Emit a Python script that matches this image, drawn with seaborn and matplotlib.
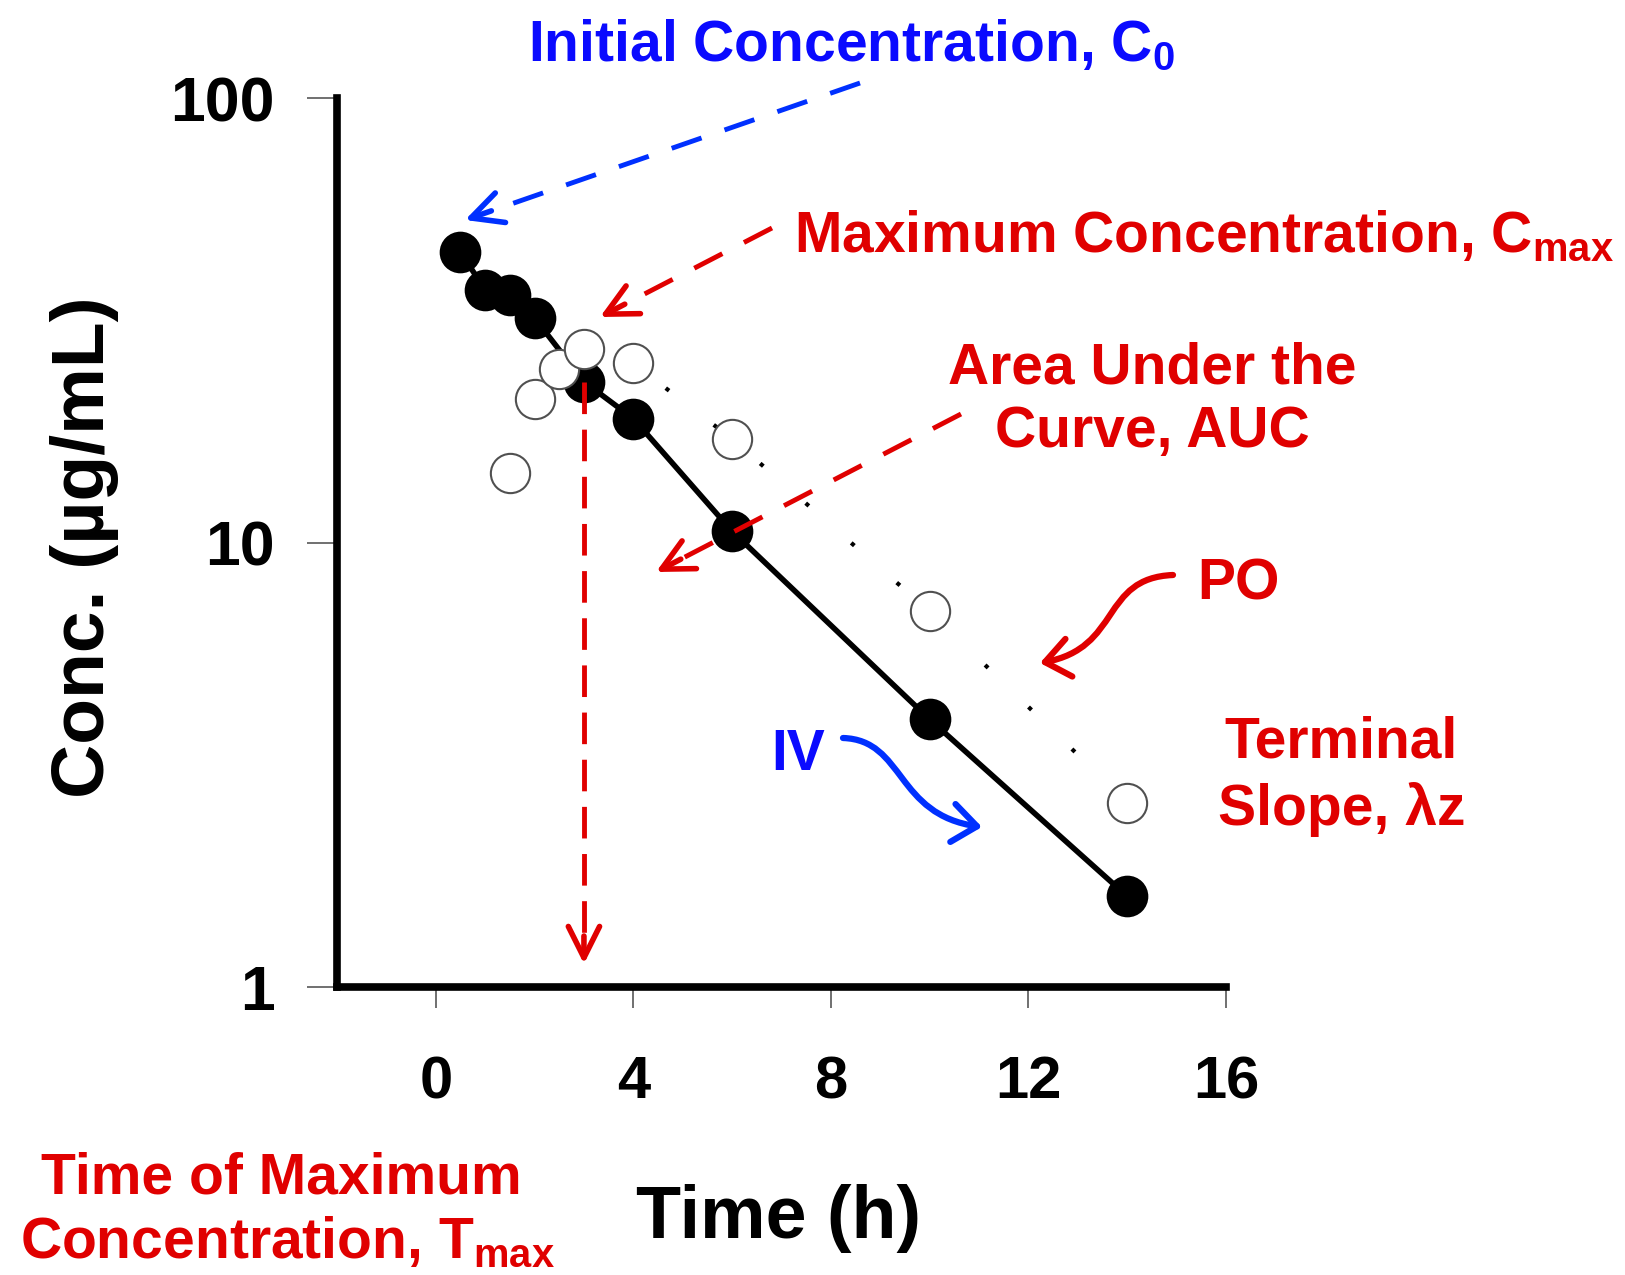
import numpy as np
import pandas as pd
import matplotlib
matplotlib.use("Agg")
import matplotlib.pyplot as plt
from matplotlib.patches import FancyArrowPatch
from matplotlib.path import Path
from matplotlib.ticker import NullLocator
import seaborn as sns

# IV bolus profile (filled circles, solid line)
iv_time = [0.5, 1, 1.5, 2, 3, 4, 6, 10, 14]
iv_conc = [45, 37, 36, 32, 23, 19, 10.6, 4.0, 1.6]

# oral (PO) profile (open circles, dotted line)
po_time = [1.5, 2, 2.5, 3, 4, 6, 10, 14]
po_conc = [14.3, 21, 24.6, 27.3, 25.3, 17.1, 7.0, 2.6]

x_ticks = [0, 4, 8, 12, 16]
y_ticks = [1, 10, 100]
y_tick_labels = ["1", "10", "100"]

t_max = 3  # time of the peak PO sample

RED = "#e00000"
BLUE = "#0a0aff"
BLUE_ARROW = "#0030ff"

sns.set_theme(style="ticks")
plt.rcParams["font.family"] = ["Liberation Sans", "DejaVu Sans"]
plt.rcParams["font.weight"] = "bold"
plt.rcParams["mathtext.fontset"] = "custom"
plt.rcParams["mathtext.rm"] = "Liberation Sans"
plt.rcParams["mathtext.it"] = "Liberation Sans:italic"
plt.rcParams["mathtext.bf"] = "Liberation Sans:bold"
plt.rcParams["text.color"] = "black"
plt.rcParams["axes.labelcolor"] = "black"

W, H = 1625, 1275
fig = plt.figure(figsize=(W / 100, H / 100), dpi=100)
fig.patch.set_facecolor("white")

# axes box in figure pixels, measured from the top-left corner
AX_L, AX_T, AX_R, AX_B = 337, 98, 1226, 987
ax = fig.add_axes([AX_L / W, 1 - AX_B / H, (AX_R - AX_L) / W, (AX_B - AX_T) / H])
ax.set_facecolor("white")
ax.set_yscale("log")


def frac(X, Y):
    """Figure pixel (top-left origin) -> axes fraction."""
    return ((X - AX_L) / (AX_R - AX_L), (AX_B - Y) / (AX_B - AX_T))


iv = pd.DataFrame({"time": iv_time, "conc": iv_conc})
po = pd.DataFrame({"time": po_time, "conc": po_conc})

sns.lineplot(data=iv, x="time", y="conc", color="black", lw=4,
             ax=ax, zorder=2, solid_capstyle="round")
sns.lineplot(data=po, x="time", y="conc", color="black", lw=3,
             linestyle=(0, (1, 13.5)), dash_capstyle="butt", ax=ax, zorder=2)
sns.scatterplot(data=iv, x="time", y="conc", color="black", edgecolor="black",
                s=900, linewidth=0, ax=ax, zorder=3)
sns.scatterplot(data=po, x="time", y="conc", color="white", edgecolor="#505050",
                s=800, linewidth=1.5, ax=ax, zorder=4)

ax.set_xlim(-2, 16)
ax.set_ylim(1, 100)
ax.set_xticks(x_ticks)
ax.set_yticks(y_ticks, labels=y_tick_labels)
ax.yaxis.set_minor_locator(NullLocator())
ax.tick_params(axis="x", which="major", direction="out", length=15, width=1.4,
               color="#707070", pad=34, labelsize=43, labelcolor="black", bottom=True)
ax.tick_params(axis="y", which="major", direction="out", length=21.6, width=1.4,
               color="#707070", pad=23, labelsize=45, labelcolor="black", left=True)
ax.tick_params(which="minor", length=0)

sns.despine(ax=ax)
for side in ("left", "bottom"):
    ax.spines[side].set_linewidth(5.5)
    ax.spines[side].set_color("black")

ax.set_xlabel("Time (h)", fontsize=53, fontweight="bold", color="black")
ax.xaxis.set_label_coords(*frac(779, 1238))
ax.xaxis.label.set_va("baseline")
ax.set_ylabel("Conc. (µg/mL)", fontsize=54, fontweight="bold", color="black")
ax.yaxis.set_label_coords(*frac(104, 547))
ax.yaxis.label.set_va("baseline")


def note(X, Y, s, color, size=41):
    ax.text(*frac(X, Y), s, transform=ax.transAxes, ha="center", va="baseline",
            fontsize=size, fontweight="bold", color=color, clip_on=False, zorder=7)


HEAD = "->,head_length=0.9,head_width=0.45"


def dashed_arrow(start, tip, color, dashes=(6.5, 5), lw=3.5, head_px=31):
    """Dashed shaft with a solid open arrow head; points in figure pixels."""
    p0 = np.array(start, float)
    p1 = np.array(tip, float)
    u = (p1 - p0) / np.linalg.norm(p1 - p0)
    neck = p1 - u * head_px * 0.85
    a0, a1 = frac(*p0), frac(*neck)
    ax.plot([a0[0], a1[0]], [a0[1], a1[1]], transform=ax.transAxes, color=color,
            lw=lw, linestyle=(0, dashes), dash_capstyle="butt", clip_on=False, zorder=6)
    ax.annotate("", xy=frac(*p1), xycoords="axes fraction",
                xytext=frac(*(p1 - u * head_px * 0.9)), textcoords="axes fraction",
                arrowprops=dict(arrowstyle=HEAD, lw=lw + 0.5, color=color, shrinkA=0,
                                shrinkB=0, mutation_scale=25), zorder=6)


def curly_arrow(p0, c1, c2, p3, color, lw=4.5):
    verts = [frac(*p) for p in (p0, c1, c2, p3)]
    path = Path(verts, [Path.MOVETO, Path.CURVE4, Path.CURVE4, Path.CURVE4])
    arrow = FancyArrowPatch(path=path, arrowstyle="->,head_length=0.7,head_width=0.55",
                            mutation_scale=25, lw=lw, color=color,
                            transform=ax.transAxes, clip_on=False, zorder=6)
    ax.add_artist(arrow)


def data_px(x, y):
    ax_x, ax_y = ax.transLimits.transform((x, np.log10(y)))
    return (AX_L + ax_x * (AX_R - AX_L), AX_B - ax_y * (AX_B - AX_T))


# labelled PK parameters
note(852, 61, r"Initial Concentration, C$_{\mathrm{0}}$", BLUE)
dashed_arrow((860, 83), (465, 220), BLUE_ARROW)

note(1204, 252, r"Maximum Concentration, C$_{\mathrm{max}}$", RED)
dashed_arrow((772, 228), (600, 317), RED)

note(1152, 383, "Area Under the", RED)
note(1152, 447, "Curve, AUC", RED)
dashed_arrow((961, 414), (656, 572), RED)

note(1238, 599, "PO", RED)
curly_arrow((1173, 575), (1100, 578), (1122, 648), (1040, 663), RED)

note(798, 770, "IV", BLUE)
curly_arrow((843, 738), (905, 740), (895, 815), (982, 827), BLUE_ARROW)

note(1341, 758, "Terminal", RED)
note(1342, 825, "Slope, λz", RED)

# vertical drop from the peak time down to the time axis
tmax_idx = iv_time.index(t_max)
top_px = data_px(t_max, iv_conc[tmax_idx])
bot_px = data_px(t_max, 1.127)
dashed_arrow(top_px, bot_px, RED, dashes=(6.5, 3.2))

note(281, 1193, "Time of Maximum", RED)
note(287, 1258, r"Concentration, T$_{\mathrm{max}}$", RED)

fig.savefig("out.png", dpi=100, facecolor="white")
